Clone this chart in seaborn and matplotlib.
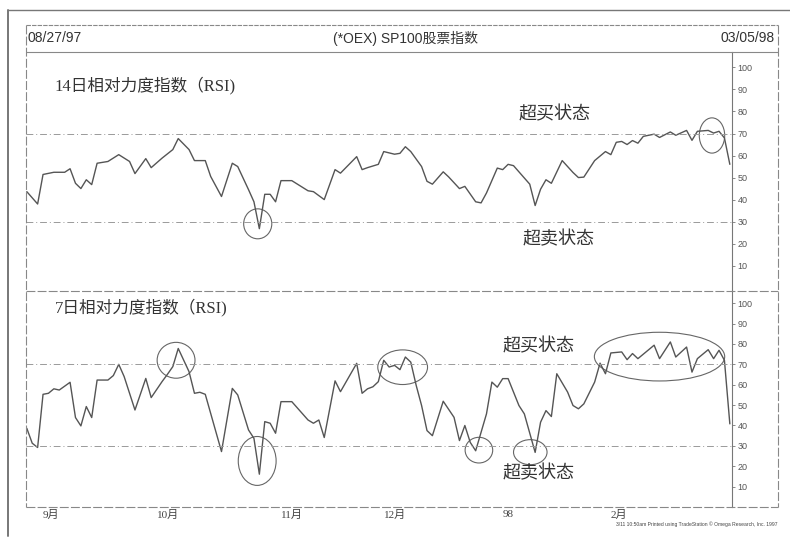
import numpy as np
import pandas as pd
import seaborn as sns
import matplotlib.pyplot as plt
from matplotlib.patches import Ellipse
from matplotlib.lines import Line2D

# 14日RSI (交易日序号, 数值)
day14 = [0, 2, 3, 5, 7, 8, 9, 10, 11, 12,
         13, 15, 17, 19, 20, 22, 23, 25, 27, 28,
         30, 31, 33, 34, 36, 38, 39, 41, 42, 43,
         44, 45, 46, 47, 49, 52, 53, 55, 57, 58,
         61, 62, 63, 65, 66, 68, 69, 70, 71, 73,
         74, 75, 77, 78, 80, 81, 83, 84, 85, 87,
         88, 89, 90, 92, 93, 94, 95, 96, 97, 99,
         101, 102, 103, 105, 107, 108, 109, 110, 111, 112,
         113, 114, 116, 117, 119, 120, 122, 123, 124, 126,
         127, 128, 129, 130]
rsi14 = [43.6, 38, 51.4, 52.4, 52.4, 54, 47.4, 45, 49, 46.8,
         56.5, 57.3, 60.4, 57.3, 51.8, 58.6, 54.5, 58.8, 62.7, 67.7,
         62.7, 57.7, 57.7, 50.5, 41.4, 56.5, 55, 44.5, 39, 26.8,
         42.4, 42.4, 39, 48.6, 48.6, 44, 43.6, 40, 53.6, 52,
         59.5, 53.6, 54.5, 56, 61.8, 60.6, 61, 64, 61.8, 55,
         48.3, 47, 52.6, 50.3, 45, 46, 39, 38.5, 43, 54.3,
         53.6, 56, 55.4, 49.8, 47, 37.3, 44.7, 49, 47.4, 57.7,
         52.3, 50, 50.2, 57.7, 61.8, 60.4, 66, 66.4, 65, 66.8,
         65.6, 68.7, 69.7, 68.2, 70.7, 69.2, 71.4, 66.9, 71, 71.4,
         70.2, 71, 68, 56]

# 7日RSI
day7 = [0, 1, 2, 3, 4, 5, 6, 8, 9, 10,
        11, 12, 13, 15, 16, 17, 18, 20, 22, 23,
        25, 26, 27, 28, 30, 31, 32, 33, 36, 38,
        39, 41, 42, 43, 44, 45, 46, 47, 49, 52,
        53, 54, 55, 57, 58, 61, 62, 63, 64, 65,
        66, 67, 68, 69, 70, 71, 72, 73, 74, 75,
        77, 79, 80, 81, 82, 83, 85, 86, 87, 88,
        89, 91, 92, 94, 95, 96, 97, 98, 100, 101,
        102, 103, 105, 106, 107, 108, 110, 111, 112, 113,
        115, 116, 117, 119, 120, 122, 123, 124, 126, 127,
        128, 129, 130]
rsi7 = [38.6, 31.3, 29.2, 55.3, 55.8, 58, 57.4, 61.2, 43.9, 39.8,
        49.3, 43.9, 62.3, 62.3, 64.5, 70, 64, 47.6, 63.1, 53.7,
        61.5, 65.1, 68.9, 77.8, 66.4, 55.8, 56.3, 55.3, 27.2, 58.2,
        55, 37.8, 33.7, 16.1, 41.9, 41.1, 36.2, 51.7, 51.7, 42.7,
        41.1, 42.7, 34.1, 61.9, 56.6, 70.5, 55.8, 58, 59, 61.5,
        72, 68.7, 69.5, 67.4, 73.6, 71.1, 59.7, 49.8, 37.5, 35,
        51.9, 44, 32.6, 40, 31.7, 27.6, 45.7, 61.3, 58.8, 63,
        63, 49.8, 45.7, 26.8, 41.6, 47.3, 44.4, 65.4, 56.4, 49.8,
        48.2, 50.6, 61.3, 70.6, 65.4, 75.6, 76.1, 72.3, 75.3, 72.8,
        77.2, 79.4, 72.8, 81, 73.6, 78.5, 66.2, 72.8, 77.2, 72.8,
        76.9, 72, 40.8]

month_days = [3, 24, 47, 66, 88, 108]
month_labels = ["9月", "10月", "11月", "12月", "98", "2月"]
rsi_ticks = [10, 20, 30, 40, 50, 60, 70, 80, 90, 100]
levels = [70, 30]

# 圈出的位置: (交易日, RSI, 宽(日), 高(RSI))
rings14 = [(42.7, 29, 5.2, 13.6), (126.7, 69.1, 4.7, 16)]
rings7 = [(27.6, 72, 7, 17.6), (42.6, 22.6, 7, 24), (69.5, 68.6, 9.2, 17),
          (83.6, 27.9, 5.1, 12.6), (93.1, 26.9, 6.2, 12.3), (117, 73.8, 24.1, 23.9)]

sns.set_style("white")
plt.rcParams['font.family'] = ['Liberation Serif', 'Noto Sans CJK SC']
cjk = ['Liberation Serif', 'Noto Sans CJK SC']
sans = ['Liberation Sans', 'Noto Sans CJK SC']

W, H = 790, 542
fig = plt.figure(figsize=(7.9, 5.42), dpi=100)


def box(x0, y0, x1, y1):
    return [x0 / W, 1 - y1 / H, (x1 - x0) / W, (y1 - y0) / H]


def fline(xs, ys, **kw):
    fig.add_artist(Line2D([x / W for x in xs], [1 - y / H for y in ys],
                          transform=fig.transFigure, **kw))


line_c = "#555555"
guide_c = "#9a9a9a"

ax1 = fig.add_axes(box(26, 52, 732, 291))
ax2 = fig.add_axes(box(26, 291, 732, 507))

panels = [(ax1, day14, rsi14, rings14, (-1.5, 107), "14日相对力度指数（RSI)", 0.858,
           [(97.6, 78.6, "超买状态"), (98.3, 21.8, "超卖状态")]),
          (ax2, day7, rsi7, rings7, (0, 106), "7日相对力度指数（RSI)", 0.926,
           [(94.6, 78.8, "超买状态"), (94.6, 16.6, "超卖状态")])]

for ax, d, v, rings, ylim, title, ty, notes in panels:
    sns.lineplot(x=d, y=v, ax=ax, color=line_c, lw=1.0)
    for lv in levels:
        ax.axhline(lv, color=guide_c, lw=0.7, ls=(0, (7, 3, 1, 3)))
    for cx, cy, w, h in rings:
        ax.add_patch(Ellipse((cx, cy), w, h, fill=False, ec="#666666", lw=0.8))
    ax.set_xlim(-0.15, 130.4)
    ax.set_ylim(*ylim)
    ax.yaxis.tick_right()
    ax.set_yticks(rsi_ticks)
    ax.set_yticklabels([str(t) for t in rsi_ticks], fontsize=6.5,
                       family=sans, color="#555555")
    ax.tick_params(axis='y', direction='out', length=2.5, width=0.6,
                   color="#777777", pad=1.5, right=True, left=False)
    ax.text(0.041, ty, title, transform=ax.transAxes, fontsize=12,
            family=cjk, color="#333333", va='center', ha='left')
    for nx, ny, s in notes:
        ax.text(nx, ny, s, fontsize=13, family=cjk, color="#333333",
                ha='center', va='center')
    for side in ['left', 'top', 'bottom']:
        ax.spines[side].set_visible(False)
    ax.spines['right'].set_color("#777777")
    ax.spines['right'].set_linewidth(0.8)
    ax.set_xlabel("")
    ax.set_ylabel("")

ax1.set_xticks([])
ax2.set_xticks(month_days)
ax2.set_xticklabels(month_labels, fontsize=8, family=cjk, color="#444444", ha='left')
ax2.tick_params(axis='x', direction='in', length=3, width=0.6, color="#888888", pad=2)

# 框线
frame = dict(color="#888888", lw=0.8)
fline([26, 778], [25, 25], ls=(0, (4, 1)), **frame)
fline([26, 778], [52, 52], **frame)
fline([26, 778], [291, 291], ls=(0, (8, 2)), **frame)
fline([26, 778], [507, 507], ls=(0, (8, 2)), **frame)
fline([26, 26], [25, 507], ls=(0, (8, 2)), **frame)
fline([778, 778], [25, 507], ls=(0, (8, 2)), **frame)
fline([8, 790], [10, 10], color="#777777", lw=1.0)
fline([8, 8], [10, 536], color="#777777", lw=1.4)

fig.text(28 / W, 1 - 38 / H, "08/27/97", fontsize=10, family=sans,
         color="#333333", ha='left', va='center')
fig.text(406 / W, 1 - 38 / H, "(*OEX) SP100股票指数", fontsize=10, family=sans,
         color="#333333", ha='center', va='center')
fig.text(775 / W, 1 - 38 / H, "03/05/98", fontsize=10, family=sans,
         color="#333333", ha='right', va='center')
fig.text(777 / W, 1 - 524 / H,
         "3/11 10:50am Printed using TradeStation © Omega Research, Inc. 1997",
         fontsize=3.6, family=sans, color="#444444", ha='right', va='center')

fig.savefig("out.png", dpi=100, facecolor="white")
